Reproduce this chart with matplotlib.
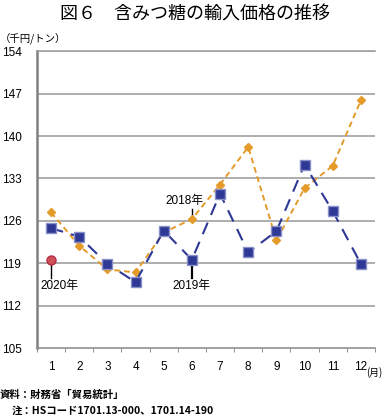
import matplotlib.pyplot as plt

plt.rcParams['font.family'] = ['Noto Sans CJK JP', 'DejaVu Sans']
num_font = ['Liberation Sans', 'Noto Sans CJK JP']

months = [1, 2, 3, 4, 5, 6, 7, 8, 9, 10, 11, 12]
month_labels = ['1', '2', '3', '4', '5', '6', '7', '8', '9', '10', '11', '12']

price_2018 = [127.4, 121.9, 118.0, 117.5, 124.1, 126.3, 132.0, 138.2, 122.8, 131.4, 135.1, 145.9]
price_2019 = [124.8, 123.4, 118.9, 115.9, 124.4, 119.6, 130.5, 120.8, 124.3, 135.3, 127.6, 118.9]
price_2020 = [119.5]

yticks = [105, 112, 119, 126, 133, 140, 147, 154]

fig = plt.figure(figsize=(3.89, 4.16), dpi=100)
ax = fig.add_axes([0.095, 0.163, 0.869, 0.714])

# gridlines
for y in yticks[1:]:
    ax.axhline(y, color='#a0a0a0', lw=1.2, zorder=0)

ax.plot(months, price_2018, color='#e49b2a', lw=1.4, ls=(0, (3, 2)),
        marker='D', ms=4.5, mec='#e49b2a', zorder=3)
ax.plot(months, price_2019, color='#2e3895', lw=1.5, ls=(0, (6, 4)),
        marker='s', ms=7.5, mfc='#2e3895', mec='#8a90c8', mew=1, zorder=4)
ax.plot(months[:1], price_2020, ls='none', marker='o', ms=6.5,
        mfc='#d0505a', mec='#b03040', zorder=5)

# annotations
ax.plot([6, 6], [price_2018[5], 127.9], color='black', lw=1)
ax.text(5.05, 128.3, '2018年', fontsize=8.5, va='bottom', ha='left', family=num_font)
ax.plot([6, 6], [price_2019[5], 116.5], color='black', lw=1.6)
ax.text(6, 116.2, '2019年', fontsize=8.5, va='top', ha='center', family=num_font)
ax.plot([1, 1], [price_2020[0], 116.5], color='black', lw=1)
ax.text(1.3, 116.2, '2020年', fontsize=8.5, va='top', ha='center', family=num_font)

ax.set_xlim(0.5, 12.5)
ax.set_ylim(105, 154)
ax.set_yticks(yticks)
ax.set_yticklabels([str(v) for v in yticks], fontsize=8.5, ha='left', family=num_font)
ax.tick_params(axis='y', length=0, pad=25)
ax.set_xticks(months)
ax.set_xticklabels(month_labels, fontsize=8.5, family=num_font)
ax.set_xticks([m + 0.5 for m in range(0, 13)], minor=True)
ax.tick_params(axis='x', which='major', length=0, pad=9)
ax.tick_params(axis='x', which='minor', length=3, color='#808080')

for s in ['right']:
    ax.spines[s].set_visible(False)
ax.spines['top'].set_color('#a0a0a0')
ax.spines['top'].set_linewidth(1.2)
ax.spines['left'].set_color('#808080')
ax.spines['left'].set_linewidth(1.8)
ax.spines['bottom'].set_color('#909090')
ax.spines['bottom'].set_linewidth(1.2)

fig.text(0.5, 0.965, '図６　含みつ糖の輸入価格の推移', fontsize=13, ha='center', va='center')
fig.text(0.0, 0.905, '（千円/トン）', fontsize=7.5, ha='left', va='center')
fig.text(0.942, 0.104, '(月)', fontsize=7, ha='left', va='center')
fig.text(0.0, 0.052, '資料：財務省「貿易統計」', fontsize=7.5, ha='left', va='center', weight='bold')
fig.text(0.03, 0.013, '注：HSコード1701.13-000、1701.14-190', fontsize=7.5, ha='left', va='center', weight='bold')

fig.savefig('out.png', dpi=100)
